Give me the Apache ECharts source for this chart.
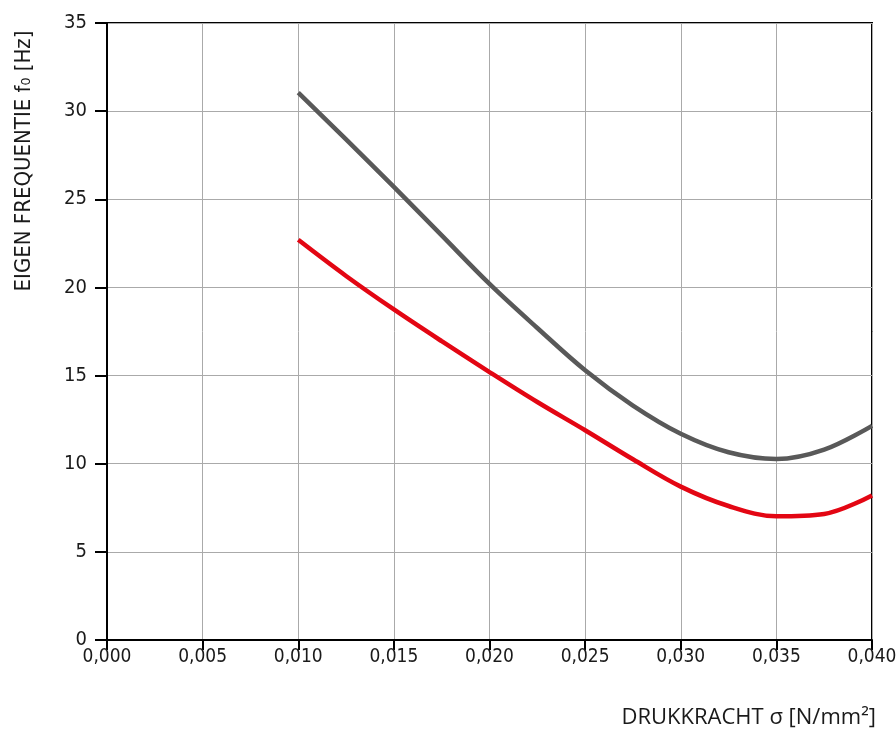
<!DOCTYPE html>
<html><head><meta charset="utf-8">
<script src="https://cdn.jsdelivr.net/npm/echarts@6/dist/echarts.min.js"></script>
<style>html,body{margin:0;padding:0;background:#fff}#c{width:896px;height:729px}</style>
</head><body><div id="c"></div>
<script>
const xValues = [0.010, 0.0125, 0.015, 0.0175, 0.020, 0.0225, 0.025, 0.0275, 0.030, 0.0325, 0.035, 0.0375, 0.040];
const grayValues = [31.05, 28.4, 25.7, 22.95, 20.2, 17.7, 15.3, 13.3, 11.7, 10.65, 10.27, 10.8, 12.15];
const redValues = [22.7, 20.65, 18.75, 16.95, 15.2, 13.5, 11.9, 10.25, 8.7, 7.6, 7.02, 7.15, 8.2];
const xTitle = 'DRUKKRACHT σ [N/mm²]';
const yTitle = 'EIGEN FREQUENTIE f₀ [Hz]';

const chart = echarts.init(document.getElementById('c'));
const font = '"DejaVu Sans Condensed", "Roboto", sans-serif';
chart.setOption({
  animation: false,
  grid: {left: 107, right: 24, top: 23, bottom: 89, containLabel: false, outerBoundsMode: 'none',
    show: true, borderColor: '#000', borderWidth: 2},
  xAxis: {
    type: 'value', min: 0, max: 0.04, interval: 0.005,
    axisLine: {lineStyle: {color: '#000', width: 2}},
    axisTick: {show: true, length: 10, lineStyle: {color: '#000', width: 2}},
    axisLabel: {color: '#1a1a1a', fontSize: 19, fontFamily: font, margin: 8,
      formatter: v => v.toFixed(3).replace('.', ',')},
    splitLine: {show: true, lineStyle: {color: '#aaa', width: 1}}
  },
  yAxis: {
    type: 'value', min: 0, max: 35, interval: 5,
    axisLine: {show: true, lineStyle: {color: '#000', width: 2}},
    axisTick: {show: true, length: 12, lineStyle: {color: '#000', width: 2}},
    axisLabel: {color: '#1a1a1a', fontSize: 20, fontFamily: font, margin: 20},
    splitLine: {show: true, lineStyle: {color: '#aaa', width: 1}}
  },
  graphic: [
    {type: 'text', x: 876, y: 718, style: {text: xTitle, fill: '#1a1a1a', fontSize: 22, fontFamily: '"Open Sans", sans-serif', align: 'right', verticalAlign: 'middle'}},
    {type: 'text', x: 24, y: 161, rotation: Math.PI/2,
      style: {text: yTitle, fill: '#1a1a1a', fontSize: 22, fontFamily: font, align: 'center', verticalAlign: 'middle'}}
  ],
  series: [
    {type: 'line', data: xValues.map((x,i)=>[x, grayValues[i]]), smooth: 0.35, showSymbol: false,
      lineStyle: {color: '#595959', width: 4.5}},
    {type: 'line', data: xValues.map((x,i)=>[x, redValues[i]]), smooth: 0.35, showSymbol: false,
      lineStyle: {color: '#e30613', width: 4.5}}
  ]
});
</script></body></html>
